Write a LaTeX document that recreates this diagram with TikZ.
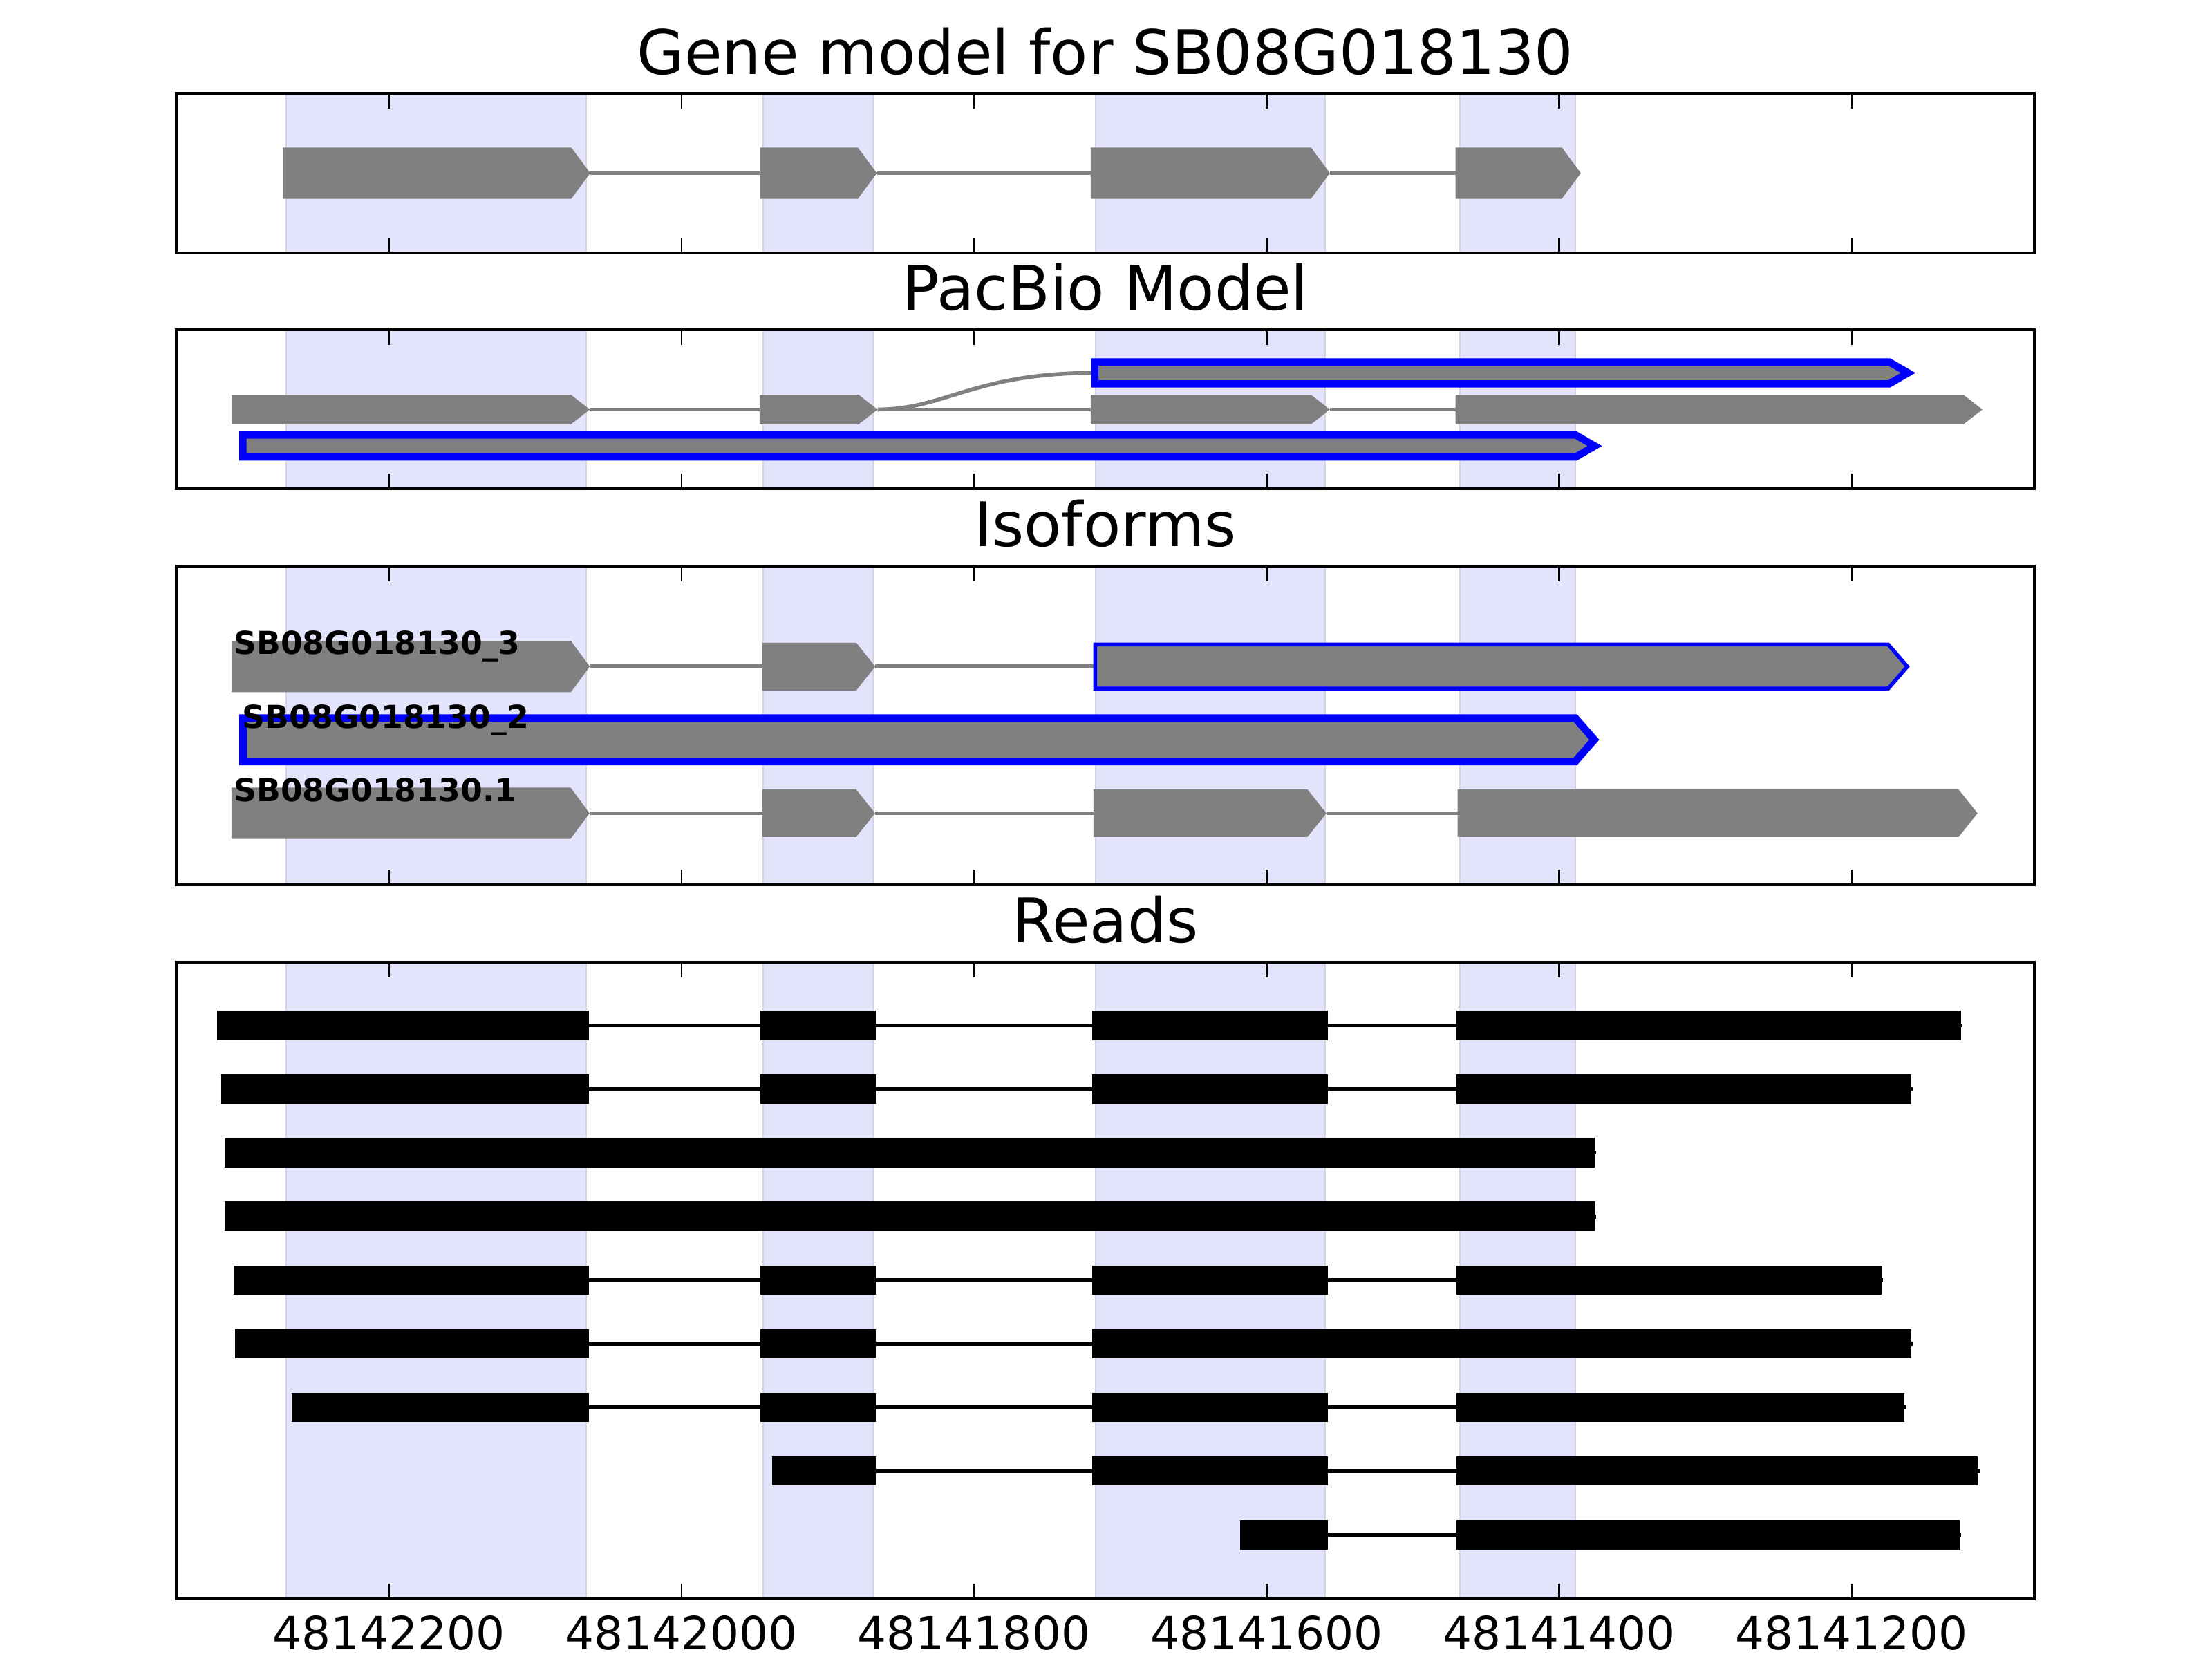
\documentclass[tikz,border=0pt]{standalone}
\usepackage{fontspec}
\setmainfont{DejaVu Sans}

\definecolor{spanblue}{RGB}{227,227,252}
\definecolor{spanedge}{RGB}{212,212,230}
\definecolor{exongray}{RGB}{128,128,128}

% exon arrow: start, tip, centre line, half height
\newcommand{\exonpath}[4]{(#1,#3-#4) -- (#2-13,#3-#4) -- (#2,#3) -- (#2-13,#3+#4) -- (#1,#3+#4) -- cycle}

\begin{document}
\begin{tikzpicture}[
    frame/.style={line width=1.3pt},
    tick/.style={line width=0.7pt},
    exon/.style={fill=exongray},
    intron/.style={draw=exongray, line width=1.6pt},
    isoblue/.style={fill=exongray, draw=blue, line join=miter},
    readbar/.style={fill=black},
    readline/.style={draw=black, line width=1.6pt},
    band/.style={fill=spanblue, draw=spanedge, line width=0.6pt},
    ttl/.style={anchor=base, font=\fontsize{25.25}{30}\selectfont},
    ticklab/.style={anchor=base, font=\fontsize{18.8}{22}\selectfont},
    isolab/.style={anchor=base west, inner sep=0pt, font=\fontsize{13}{15}\selectfont\bfseries}]
    \useasboundingbox (0,0) rectangle (32,24);

    % Axis edges
    \def\xl{2.55}
    \def\xr{29.43}

    % Titles
    \node[ttl] (tGene) at (15.99,22.927) {Gene model for SB08G018130};
    \node[ttl] (tPac) at (15.99,19.51) {PacBio Model};
    \node[ttl] (tIso) at (15.99,16.09) {Isoforms};
    \node[ttl] (tReads) at (15.99,10.36) {Reads};

    % x in bp downstream of 48142400
    \begin{scope}[shift={(1.392,0)}, x=0.021165cm]
    % Shaded exons of the gene model
    \foreach \lo/\hi in {20.34/22.65, 16.93/19.23, 11.20/15.81, 0.87/10.08}
      \foreach \a/\b in {130/335, 456/531, 683/840, 932/1011}
        \filldraw[band] (\a,\lo) rectangle (\b,\hi);

    % Ticks
    \foreach \lo/\hi in {20.34/22.65, 16.93/19.23, 11.20/15.81, 0.87/10.08}
      \foreach \t in {200,400,...,1200}{
        \draw[tick] (\t,\lo) -- ++(0,0.22);
        \draw[tick] (\t,\hi) -- ++(0,-0.22);
      }
    \foreach \t in {200,400,...,1200}
      \node[ticklab] (tl\t) at (\t,0.13) {\number\numexpr48142400-\t\relax};

    % Gene model
    \def\yg{21.495}
    \fill[exon] \exonpath{127.5}{337.7}{\yg}{0.372};
    \fill[exon] \exonpath{454}{533.6}{\yg}{0.372};
    \fill[exon] \exonpath{679.8}{843.3}{\yg}{0.372};
    \fill[exon] \exonpath{929.1}{1014.8}{\yg}{0.372};
    \draw[intron] (337.7,\yg) -- (454,\yg) (533.6,\yg) -- (679.8,\yg) (843.3,\yg) -- (929.1,\yg);

    % PacBio model
    \def\ya{18.605}
    \def\yb{18.075}
    \def\yc{17.547}
    \fill[exon] \exonpath{92.6}{337.4}{\yb}{0.214};
    \fill[exon] \exonpath{453.4}{534.1}{\yb}{0.214};
    \fill[exon] \exonpath{679.8}{843.3}{\yb}{0.214};
    \fill[exon] \exonpath{929.1}{1289.3}{\yb}{0.214};
    \draw[intron] (337.4,\yb) -- (453.4,\yb) (534.1,\yb) -- (679.8,\yb) (843.3,\yb) -- (929.1,\yb);
    \draw[intron] (534.1,\yb) .. controls (580,\yb) and (600,\ya) .. (682.6,\ya);
    \filldraw[isoblue, line width=3pt] \exonpath{682.6}{1238.6}{\ya}{0.159};
    \filldraw[isoblue, line width=3pt] \exonpath{100.3}{1024.3}{\yc}{0.159};

    % Isoforms
    \def\yi{14.357}
    \def\yj{13.298}
    \def\yk{12.235}
    \fill[exon] \exonpath{92.6}{337.4}{\yi}{0.372};
    \fill[exon] \exonpath{455.4}{532.5}{\yi}{0.345};
    \draw[intron] (337.4,\yi) -- (455.4,\yi) (532.5,\yi) -- (682.9,\yi);
    \filldraw[isoblue, line width=1.56pt] \exonpath{682.9}{1238}{\yi}{0.318};
    \filldraw[isoblue, line width=3.1pt] \exonpath{100.3}{1024}{\yj}{0.314};
    \fill[exon] \exonpath{92.5}{337.2}{\yk}{0.372};
    \fill[exon] \exonpath{455.4}{532.4}{\yk}{0.345};
    \fill[exon] \exonpath{681.7}{840.9}{\yk}{0.345};
    \fill[exon] \exonpath{930.6}{1286}{\yk}{0.345};
    \draw[intron] (337.2,\yk) -- (455.4,\yk) (532.4,\yk) -- (681.7,\yk) (840.9,\yk) -- (930.6,\yk);
    \node[isolab] (iso3) at (93.8,14.533) {SB08G018130\_3};
    \node[isolab] (iso2) at (99.6,13.467) {SB08G018130\_2};
    \node[isolab] (iso1) at (93.8,12.40) {SB08G018130.1};

    % Reads
    \foreach \r/\s/\e/\blocks in {
        1/82.6/1274.5/{82.6/337,454/533,681/842,930/1274.5},
        2/85.1/1240.5/{85.1/337,454/533,681/842,930/1240.5},
        3/87.9/1024.3/{87.9/1024.3},
        4/87.9/1024.3/{87.9/1024.3},
        5/94.1/1220.2/{94.1/337,454/533,681/842,930/1220.2},
        6/95/1240.5/{95/337,454/533,681/1240.5},
        7/133.8/1236.2/{133.8/337,454/533,681/842,930/1236.2},
        8/462.1/1286.3/{462.1/533,681/842,930/1286.3},
        9/781.7/1273.6/{781.7/842,930/1273.6}}{
      \pgfmathsetmacro{\ry}{9.165-0.921*(\r-1)}
      \draw[readline] (\s,\ry) -- (\e+1,\ry);
      \foreach \a/\b in \blocks
        \fill[readbar] (\a,\ry-0.213) rectangle (\b,\ry+0.213);
    }
    \end{scope}

    % Axis frames
    \foreach \lo/\hi in {20.34/22.65, 16.93/19.23, 11.20/15.81, 0.87/10.08}
      \draw[frame] (\xl,\lo) rectangle (\xr,\hi);
\end{tikzpicture}
\end{document}
